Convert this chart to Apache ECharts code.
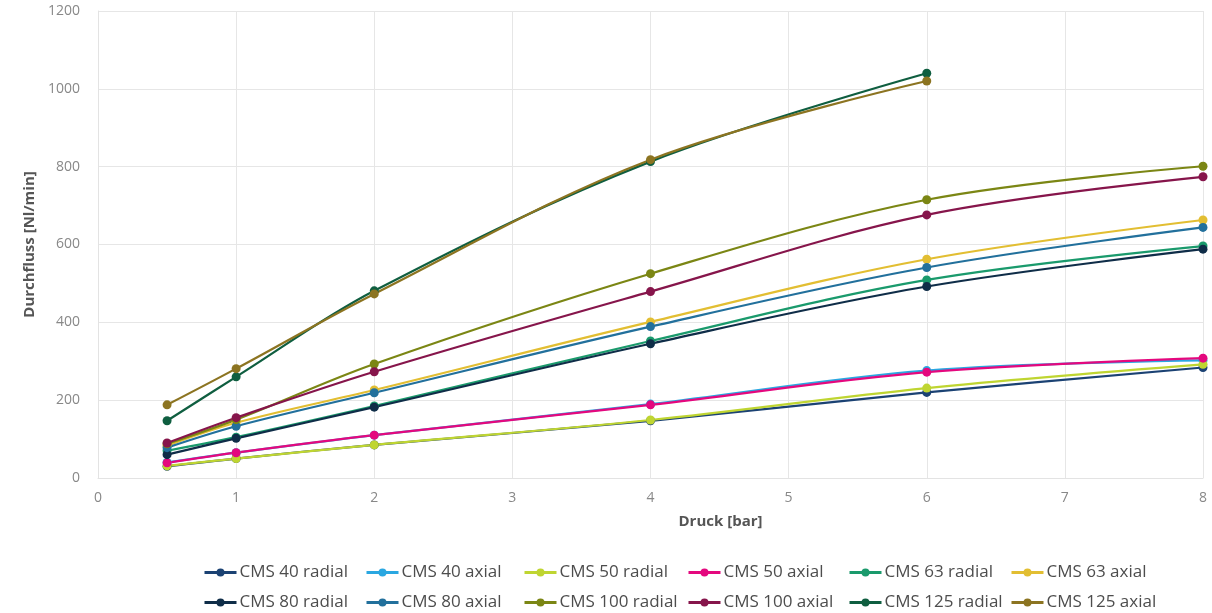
<!DOCTYPE html>
<html>
<head>
<meta charset="utf-8">
<script src="https://cdn.jsdelivr.net/npm/echarts@6/dist/echarts.min.js"></script>
<style>
html,body{margin:0;padding:0;background:#fff;}
#chart{width:1212px;height:613px;}
</style>
</head>
<body>
<div id="chart"></div>
<script>
const pressures = [0.5, 1, 2, 4, 6, 8];
const seriesNames = ['CMS 40 radial','CMS 40 axial','CMS 50 radial','CMS 50 axial','CMS 63 radial','CMS 63 axial','CMS 80 radial','CMS 80 axial','CMS 100 radial','CMS 100 axial','CMS 125 radial','CMS 125 axial'];
const cms40radial  = [30, 50, 85, 147, 220, 284];
const cms40axial   = [40, 65, 110, 190, 276, 302];
const cms50radial  = [31, 50, 85, 149, 231, 292];
const cms50axial   = [39, 65, 110, 188, 272, 308];
const cms63radial  = [70, 105, 185, 352, 509, 596];
const cms63axial   = [83, 142, 226, 401, 562, 663];
const cms80radial  = [60, 102, 182, 345, 492, 588];
const cms80axial   = [78, 133, 219, 389, 541, 644];
const cms100radial = [88, 150, 293, 525, 715, 801];
const cms100axial  = [90, 155, 273, 479, 676, 774];
const cms125radial = [147, 260, 481, 813, 1040];
const cms125axial  = [188, 281, 473, 818, 1020];
const allValues = [cms40radial, cms40axial, cms50radial, cms50axial, cms63radial, cms63axial, cms80radial, cms80axial, cms100radial, cms100axial, cms125radial, cms125axial];
const colors = ['#1B4273','#2AA7E1','#BFD531','#E4087E','#1A9A6C','#E2BE32','#0F2D48','#22709C','#7B8614','#86154B','#0F5E40','#8C7421'];

const chart = echarts.init(document.getElementById('chart'));
const FONT = '"Open Sans", "DejaVu Sans", sans-serif';

const series = seriesNames.map((n, i) => ({
  name: n,
  type: 'line',
  smooth: 0.35,
  symbol: 'circle',
  symbolSize: 9,
  showSymbol: true,
  lineStyle: { width: 2.2, color: colors[i] },
  itemStyle: { color: colors[i] },
  data: allValues[i].map((v, j) => [pressures[j], v])
}));

const colLefts = [203, 365, 523, 687, 848, 1010];
const rowTops = [564, 594];
const legends = seriesNames.map((n, i) => ({
  data: [n],
  left: colLefts[i % 6],
  top: rowTops[Math.floor(i / 6)],
  padding: 0,
  itemWidth: 32,
  itemHeight: 10,
  itemGap: 4,
  lineStyle: { width: 3 },
  textStyle: { fontFamily: FONT, fontSize: 17, color: '#4d4d4d', padding: [0, 0, 0, -2] }
}));

chart.setOption({
  animation: false,
  backgroundColor: '#fff',
  color: colors,
  grid: { left: 98, right: 9, top: 11, bottom: 135 },
  legend: legends,
  xAxis: {
    type: 'value',
    min: 0, max: 8, interval: 1,
    name: 'Druck [bar]',
    nameLocation: 'middle',
    nameGap: 36,
    nameTextStyle: { fontFamily: FONT, fontSize: 15, fontWeight: 'bold', color: '#555', padding: [0, 0, 0, 140] },
    axisLine: { show: true, lineStyle: { color: '#e3e3e3' } },
    axisTick: { show: false },
    axisLabel: { fontFamily: FONT, fontSize: 14, color: '#888', margin: 13 },
    splitLine: { show: true, lineStyle: { color: '#e6e6e6' } }
  },
  yAxis: {
    type: 'value',
    min: 0, max: 1200, interval: 200,
    name: 'Durchfluss [Nl/min]',
    nameLocation: 'middle',
    nameGap: 57,
    nameTextStyle: { fontFamily: FONT, fontSize: 15, fontWeight: 'bold', color: '#555' },
    axisLine: { show: true, lineStyle: { color: '#e3e3e3' } },
    axisTick: { show: false },
    axisLabel: { fontFamily: FONT, fontSize: 14, color: '#888', margin: 18, formatter: v => String(v) },
    splitLine: { show: true, lineStyle: { color: '#e6e6e6' } }
  },
  series: series
});
</script>
</body>
</html>
